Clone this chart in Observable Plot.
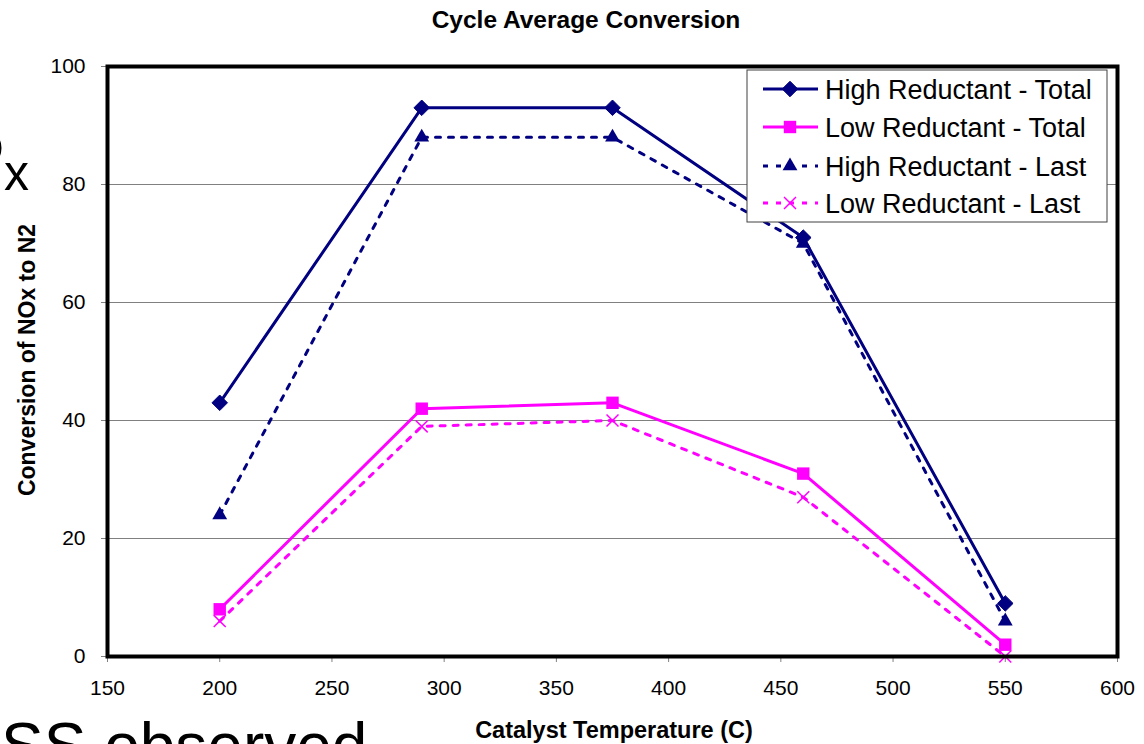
<!DOCTYPE html>
<html><head><meta charset="utf-8">
<script src="https://cdn.jsdelivr.net/npm/d3@7"></script>
<script src="https://cdn.jsdelivr.net/npm/@observablehq/plot@0.6"></script>
<style>
body{margin:0;background:#fff;}
#wrap{position:relative;width:1144px;height:744px;overflow:hidden;font-family:"Liberation Sans",Arial,sans-serif;background:#fff;}
#wrap svg{position:absolute;left:0;top:0;}
</style></head><body><div id="wrap"></div>
<script>
// ---- data ----
const temps = [200, 290, 375, 460, 550];
const highTotal = [43, 93, 93, 71, 9];
const lowTotal = [8, 42, 43, 31, 2];
const highLast = [24, 88, 88, 70, 6];
const lowLast = [6, 39, 40, 27, 0];
const seriesNames = ["High Reductant - Total", "Low Reductant - Total", "High Reductant - Last", "Low Reductant - Last"];
const xTicks = [150, 200, 250, 300, 350, 400, 450, 500, 550, 600];
const yTicks = [0, 20, 40, 60, 80, 100];
const gridValues = [20, 40, 60, 80];
const titleText = "Cycle Average Conversion";
const xLabelText = "Catalyst Temperature (C)";
const yLabelText = "Conversion of NOx to N2";
const strayTexts = ["NO", "x", "SS observed"];

// ---- styles ----
const seriesValues = [highTotal, lowTotal, highLast, lowLast];
const seriesColors = ["#000080", "#FF00FF", "#000080", "#FF00FF"];
const seriesDash = [null, null, "5,8", "5,8"];
const seriesSymbols = ["diamond2", "square", "triangle", "times"];
const seriesR = [7, 7, 5.5, 5.5];

const W = 1144, H = 744;
const mL = 107, mR = 27, mT = 66, mB = 88;

const marks = [Plot.ruleY(gridValues, {stroke: "#808080", strokeWidth: 1})];
seriesNames.forEach((name, i) => {
  const data = temps.map((t, j) => ({series: name, temp: t, value: seriesValues[i][j]}));
  marks.push(Plot.line(data, {x: "temp", y: "value", stroke: seriesColors[i], strokeWidth: 3,
    strokeDasharray: seriesDash[i] || undefined}));
  if (seriesSymbols[i] === "times") {
    marks.push(Plot.dot(data, {x: "temp", y: "value", symbol: "times", r: seriesR[i], stroke: seriesColors[i], strokeWidth: 1.5}));
  } else {
    marks.push(Plot.dot(data, {x: "temp", y: "value", symbol: seriesSymbols[i], r: seriesR[i], fill: seriesColors[i],
      stroke: seriesSymbols[i] === "diamond2" ? seriesColors[i] : "none", strokeWidth: 1}));
  }
});
marks.push(Plot.axisX({ticks: xTicks, tickSize: 6, tickPadding: 18, stroke: "#808080", fill: "black", label: null}));
marks.push(Plot.axisY({ticks: yTicks, tickSize: 6, tickPadding: 16, stroke: "#808080", fill: "black", label: null}));
marks.push(Plot.frame({stroke: "black", strokeWidth: 4}));

const chart = Plot.plot({
  width: W, height: H,
  marginLeft: mL, marginRight: mR, marginTop: mT, marginBottom: mB,
  x: {domain: [150, 600]},
  y: {domain: [0, 100]},
  style: {fontFamily: "'Liberation Sans', Arial, sans-serif", fontSize: "21px", background: "white", color: "black"},
  marks
});
document.getElementById("wrap").appendChild(chart);

// ---- overlay: title, axis labels, legend, stray slide text ----
const svg = d3.select("#wrap").append("svg").attr("width", W).attr("height", H)
  .style("font-family", "'Liberation Sans', Arial, sans-serif").style("pointer-events", "none");

svg.append("text").attr("x", 586).attr("y", 28).attr("text-anchor", "middle")
  .attr("font-weight", "bold").attr("font-size", 24.5).text(titleText);
svg.append("text").attr("x", 614).attr("y", 738).attr("text-anchor", "middle")
  .attr("font-weight", "bold").attr("font-size", 23.5).text(xLabelText);
svg.append("text").attr("transform", "translate(35,360) rotate(-90)").attr("text-anchor", "middle")
  .attr("font-weight", "bold").attr("font-size", 23).text(yLabelText);

// stray text from underlying slide
svg.append("text").attr("x", 4).attr("y", 166).attr("text-anchor", "end").attr("font-size", 50).text(strayTexts[0]);
svg.append("text").attr("x", 4).attr("y", 190).attr("font-size", 50).text(strayTexts[1]);
svg.append("text").attr("x", 1).attr("y", 768).attr("font-size", 64).text(strayTexts[2]);

// legend
const lg = svg.append("g");
lg.append("rect").attr("x", 747).attr("y", 70).attr("width", 360).attr("height", 152)
  .attr("fill", "white").attr("stroke", "#404040").attr("stroke-width", 1);
const rowY = [89, 127, 166, 203];
const symMap = {diamond2: d3.symbolDiamond2, square: d3.symbolSquare, triangle: d3.symbolTriangle, times: d3.symbolTimes};
seriesNames.forEach((name, i) => {
  const y = rowY[i];
  lg.append("line").attr("x1", 763).attr("x2", 818).attr("y1", y).attr("y2", y)
    .attr("stroke", seriesColors[i]).attr("stroke-width", 3)
    .attr("stroke-dasharray", seriesDash[i] || null);
  const p = d3.symbol(symMap[seriesSymbols[i]], seriesR[i] * seriesR[i] * Math.PI)();
  const s = lg.append("path").attr("d", p).attr("transform", `translate(790,${y})`);
  if (seriesSymbols[i] === "times") s.attr("fill", "none").attr("stroke", seriesColors[i]).attr("stroke-width", 1.5);
  else s.attr("fill", seriesColors[i]).attr("stroke", seriesSymbols[i] === "diamond2" ? seriesColors[i] : "none");
  lg.append("text").attr("x", 825).attr("y", y).attr("dy", "0.36em").attr("font-size", 27).text(name);
});
</script></body></html>
